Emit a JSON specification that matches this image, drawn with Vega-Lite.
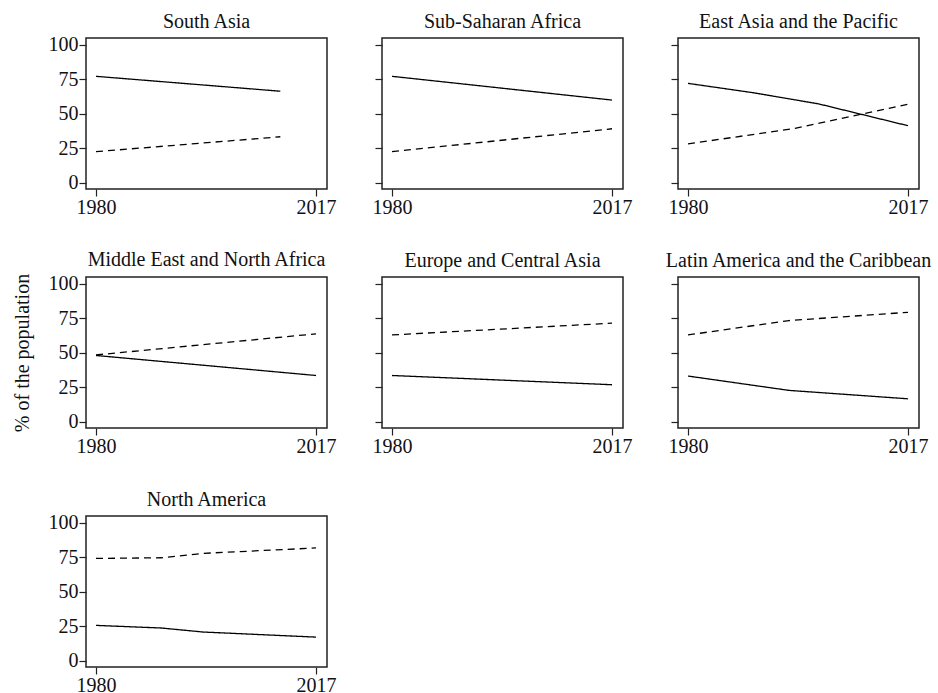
{
  "$schema": "https://vega.github.io/schema/vega-lite/v6.json",
  "padding": {"left": 11, "top": 11, "right": 5, "bottom": 0},
  "background": "white",
  "data": {"values": [
    {"region": "South Asia", "area": "Rural", "year": 1980, "value": 77.3},
    {"region": "South Asia", "area": "Rural", "year": 2011, "value": 66.5},
    {"region": "South Asia", "area": "Urban", "year": 1980, "value": 22.7},
    {"region": "South Asia", "area": "Urban", "year": 2011, "value": 33.5},
    {"region": "Sub-Saharan Africa", "area": "Rural", "year": 1980, "value": 77.3},
    {"region": "Sub-Saharan Africa", "area": "Rural", "year": 2017, "value": 60.1},
    {"region": "Sub-Saharan Africa", "area": "Urban", "year": 1980, "value": 22.7},
    {"region": "Sub-Saharan Africa", "area": "Urban", "year": 2017, "value": 39.3},
    {"region": "East Asia and the Pacific", "area": "Rural", "year": 1980, "value": 72.2},
    {"region": "East Asia and the Pacific", "area": "Rural", "year": 1991, "value": 65.4},
    {"region": "East Asia and the Pacific", "area": "Rural", "year": 2002, "value": 57.3},
    {"region": "East Asia and the Pacific", "area": "Rural", "year": 2017, "value": 41.5},
    {"region": "East Asia and the Pacific", "area": "Urban", "year": 1980, "value": 28.3},
    {"region": "East Asia and the Pacific", "area": "Urban", "year": 1998, "value": 39.6},
    {"region": "East Asia and the Pacific", "area": "Urban", "year": 2017, "value": 57.0},
    {"region": "Middle East and North Africa", "area": "Rural", "year": 1980, "value": 48.2},
    {"region": "Middle East and North Africa", "area": "Rural", "year": 2017, "value": 33.7},
    {"region": "Middle East and North Africa", "area": "Urban", "year": 1980, "value": 48.6},
    {"region": "Middle East and North Africa", "area": "Urban", "year": 2017, "value": 63.9},
    {"region": "Europe and Central Asia", "area": "Rural", "year": 1980, "value": 33.7},
    {"region": "Europe and Central Asia", "area": "Rural", "year": 2017, "value": 27.0},
    {"region": "Europe and Central Asia", "area": "Urban", "year": 1980, "value": 63.1},
    {"region": "Europe and Central Asia", "area": "Urban", "year": 2017, "value": 71.6},
    {"region": "Latin America and the Caribbean", "area": "Rural", "year": 1980, "value": 33.3},
    {"region": "Latin America and the Caribbean", "area": "Rural", "year": 1997, "value": 22.9},
    {"region": "Latin America and the Caribbean", "area": "Rural", "year": 2017, "value": 16.8},
    {"region": "Latin America and the Caribbean", "area": "Urban", "year": 1980, "value": 63.1},
    {"region": "Latin America and the Caribbean", "area": "Urban", "year": 1997, "value": 73.5},
    {"region": "Latin America and the Caribbean", "area": "Urban", "year": 2017, "value": 79.5},
    {"region": "North America", "area": "Rural", "year": 1980, "value": 25.8},
    {"region": "North America", "area": "Rural", "year": 1991, "value": 23.9},
    {"region": "North America", "area": "Rural", "year": 1998, "value": 21.0},
    {"region": "North America", "area": "Rural", "year": 2017, "value": 17.3},
    {"region": "North America", "area": "Urban", "year": 1980, "value": 74.3},
    {"region": "North America", "area": "Urban", "year": 1991, "value": 74.8},
    {"region": "North America", "area": "Urban", "year": 1998, "value": 78.0},
    {"region": "North America", "area": "Urban", "year": 2017, "value": 81.9}
  ]},
  "columns": 3,
  "spacing": {"row": 88, "column": 55},
  "bounds": "flush",
  "concat": [
    {
      "title": {"text": "South Asia", "dy": 3},
      "width": 241, "height": 151,
      "transform": [{"filter": "datum.region === 'South Asia'"}],
      "mark": {"type": "line", "color": "black", "strokeWidth": 1.3},
      "encoding": {
        "x": {"field": "year", "type": "quantitative", "scale": {"domain": [1978.32, 2018.85], "nice": false, "zero": false}, "axis": {"values": [1980, 2017], "format": "d", "title": null}},
        "y": {"field": "value", "type": "quantitative", "scale": {"domain": [-4.35, 105.07], "nice": false, "zero": false}, "axis": {"values": [0, 25, 50, 75, 100], "title": null, "labels": true}},
        "strokeDash": {"field": "area", "type": "nominal", "scale": {"domain": ["Rural", "Urban"], "range": [[1, 0], [7, 5]]}, "legend": null}
      }
    },
    {
      "title": "Sub-Saharan Africa",
      "width": 241, "height": 151,
      "transform": [{"filter": "datum.region === 'Sub-Saharan Africa'"}],
      "mark": {"type": "line", "color": "black", "strokeWidth": 1.3},
      "encoding": {
        "x": {"field": "year", "type": "quantitative", "scale": {"domain": [1978.32, 2018.85], "nice": false, "zero": false}, "axis": {"values": [1980, 2017], "format": "d", "title": null}},
        "y": {"field": "value", "type": "quantitative", "scale": {"domain": [-4.35, 105.07], "nice": false, "zero": false}, "axis": {"values": [0, 25, 50, 75, 100], "title": null, "labels": false}},
        "strokeDash": {"field": "area", "type": "nominal", "scale": {"domain": ["Rural", "Urban"], "range": [[1, 0], [7, 5]]}, "legend": null}
      }
    },
    {
      "title": "East Asia and the Pacific",
      "width": 241, "height": 151,
      "transform": [{"filter": "datum.region === 'East Asia and the Pacific'"}],
      "mark": {"type": "line", "color": "black", "strokeWidth": 1.3},
      "encoding": {
        "x": {"field": "year", "type": "quantitative", "scale": {"domain": [1978.32, 2018.85], "nice": false, "zero": false}, "axis": {"values": [1980, 2017], "format": "d", "title": null}},
        "y": {"field": "value", "type": "quantitative", "scale": {"domain": [-4.35, 105.07], "nice": false, "zero": false}, "axis": {"values": [0, 25, 50, 75, 100], "title": null, "labels": false}},
        "strokeDash": {"field": "area", "type": "nominal", "scale": {"domain": ["Rural", "Urban"], "range": [[1, 0], [7, 5]]}, "legend": null}
      }
    },
    {
      "title": {"text": "Middle East and North Africa", "dy": 3},
      "width": 241, "height": 151,
      "transform": [{"filter": "datum.region === 'Middle East and North Africa'"}],
      "mark": {"type": "line", "color": "black", "strokeWidth": 1.3},
      "encoding": {
        "x": {"field": "year", "type": "quantitative", "scale": {"domain": [1978.32, 2018.85], "nice": false, "zero": false}, "axis": {"values": [1980, 2017], "format": "d", "title": null}},
        "y": {"field": "value", "type": "quantitative", "scale": {"domain": [-4.35, 105.07], "nice": false, "zero": false}, "axis": {"values": [0, 25, 50, 75, 100], "title": "% of the population", "labels": true}},
        "strokeDash": {"field": "area", "type": "nominal", "scale": {"domain": ["Rural", "Urban"], "range": [[1, 0], [7, 5]]}, "legend": null}
      }
    },
    {
      "title": "Europe and Central Asia",
      "width": 241, "height": 151,
      "transform": [{"filter": "datum.region === 'Europe and Central Asia'"}],
      "mark": {"type": "line", "color": "black", "strokeWidth": 1.3},
      "encoding": {
        "x": {"field": "year", "type": "quantitative", "scale": {"domain": [1978.32, 2018.85], "nice": false, "zero": false}, "axis": {"values": [1980, 2017], "format": "d", "title": null}},
        "y": {"field": "value", "type": "quantitative", "scale": {"domain": [-4.35, 105.07], "nice": false, "zero": false}, "axis": {"values": [0, 25, 50, 75, 100], "title": null, "labels": false}},
        "strokeDash": {"field": "area", "type": "nominal", "scale": {"domain": ["Rural", "Urban"], "range": [[1, 0], [7, 5]]}, "legend": null}
      }
    },
    {
      "title": "Latin America and the Caribbean",
      "width": 241, "height": 151,
      "transform": [{"filter": "datum.region === 'Latin America and the Caribbean'"}],
      "mark": {"type": "line", "color": "black", "strokeWidth": 1.3},
      "encoding": {
        "x": {"field": "year", "type": "quantitative", "scale": {"domain": [1978.32, 2018.85], "nice": false, "zero": false}, "axis": {"values": [1980, 2017], "format": "d", "title": null}},
        "y": {"field": "value", "type": "quantitative", "scale": {"domain": [-4.35, 105.07], "nice": false, "zero": false}, "axis": {"values": [0, 25, 50, 75, 100], "title": null, "labels": false}},
        "strokeDash": {"field": "area", "type": "nominal", "scale": {"domain": ["Rural", "Urban"], "range": [[1, 0], [7, 5]]}, "legend": null}
      }
    },
    {
      "title": {"text": "North America", "dy": 3},
      "width": 241, "height": 151,
      "transform": [{"filter": "datum.region === 'North America'"}],
      "mark": {"type": "line", "color": "black", "strokeWidth": 1.3},
      "encoding": {
        "x": {"field": "year", "type": "quantitative", "scale": {"domain": [1978.32, 2018.85], "nice": false, "zero": false}, "axis": {"values": [1980, 2017], "format": "d", "title": null}},
        "y": {"field": "value", "type": "quantitative", "scale": {"domain": [-4.35, 105.07], "nice": false, "zero": false}, "axis": {"values": [0, 25, 50, 75, 100], "title": null, "labels": true}},
        "strokeDash": {"field": "area", "type": "nominal", "scale": {"domain": ["Rural", "Urban"], "range": [[1, 0], [7, 5]]}, "legend": null}
      }
    }
  ],
  "config": {
    "font": "Liberation Serif",
    "view": {"stroke": "#222222", "strokeWidth": 1.5},
    "axis": {
      "grid": false,
      "domain": false,
      "tickColor": "#222222",
      "tickSize": 7,
      "tickWidth": 1.2,
      "labelFont": "Liberation Serif",
      "labelFontSize": 20,
      "labelColor": "#111111",
      "titleFont": "Liberation Serif",
      "titleFontSize": 20,
      "titleFontWeight": "normal",
      "titleColor": "#111111"
    },
    "axisX": {"labelPadding": 1},
    "axisY": {"labelPadding": 1, "titlePadding": 16, "labelFlush": false},
    "title": {"font": "Liberation Serif", "fontSize": 20, "fontWeight": "normal", "color": "#111111", "baseline": "alphabetic", "offset": 6, "anchor": "middle", "frame": "group"}
  }
}
